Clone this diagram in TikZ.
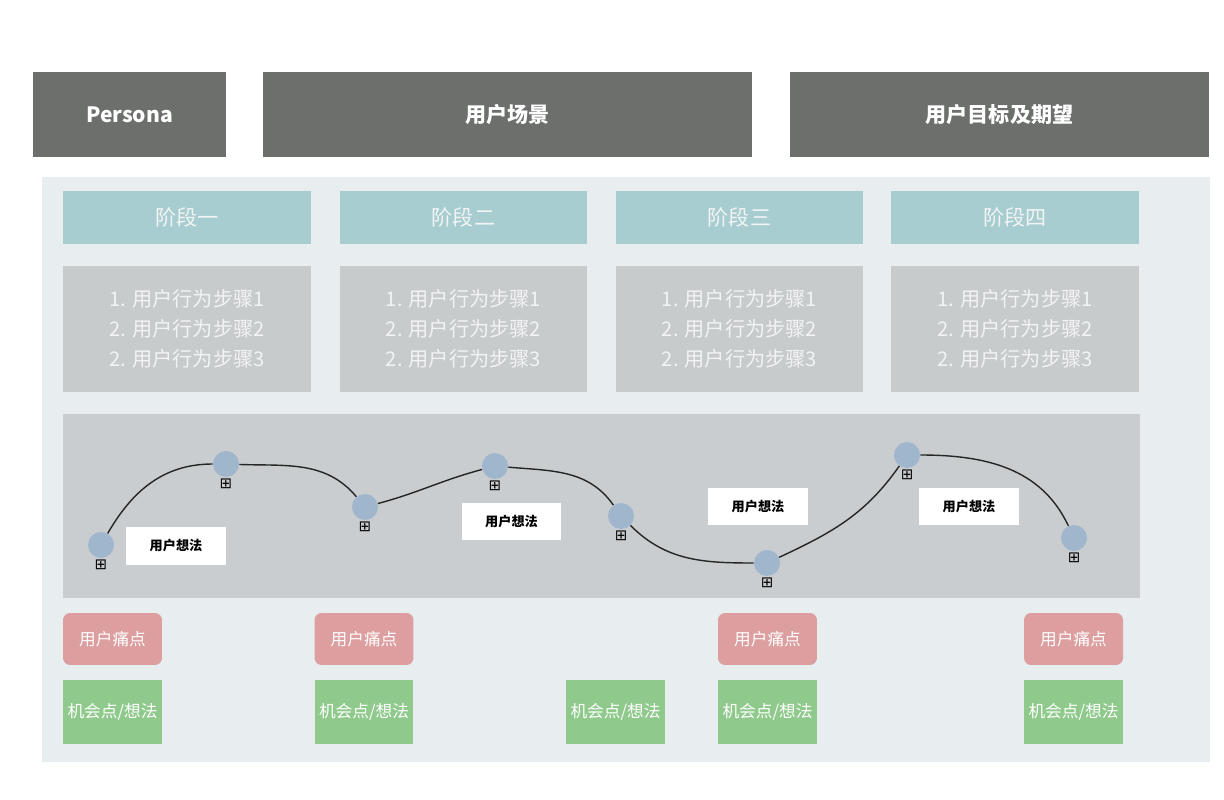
\documentclass[tikz,border=0pt]{standalone}
\usepackage{fontspec}
\setmainfont{Noto Sans CJK SC}
\newfontfamily\symfont{DejaVu Sans}
\usepackage{tikz}
\usepackage{xcolor}
\usetikzlibrary{
    arrows.meta,
    positioning
}
\definecolor{topGray}{RGB}{108,111,108}
\definecolor{panelBg}{RGB}{232,238,240}
\definecolor{stageTeal}{RGB}{168,205,208}
\definecolor{stepGray}{RGB}{200,203,204}
\definecolor{curveBg}{RGB}{201,205,207}
\definecolor{dotBlue}{RGB}{160,182,205}
\definecolor{painRed}{RGB}{220,158,159}
\definecolor{oppGreen}{RGB}{143,202,140}
\definecolor{softWhite}{RGB}{242,244,244}
\tikzset{
  topbox/.style   = {fill=topGray, minimum height=1.70cm, inner sep=0pt,
                     text=white, font=\bfseries\fontsize{12}{14}\selectfont},
  stagebox/.style = {fill=stageTeal, minimum width=4.96cm,
                     minimum height=1.06cm, inner sep=0pt, text=softWhite,
                     font=\fontsize{12}{14}\selectfont},
  stepbox/.style  = {fill=stepGray, minimum width=4.96cm,
                     minimum height=2.52cm, inner sep=0pt, align=center,
                     text=softWhite, font=\fontsize{11.5}{17}\selectfont},
  dot/.style      = {circle, fill=dotBlue, minimum size=0.52cm, inner sep=0pt,
                     label={[inner sep=0pt, yshift=-0.02cm,
                             font=\symfont\fontsize{8.5}{8.5}\selectfont]below:⊞}},
  thought/.style  = {fill=white, minimum width=2.0cm, minimum height=0.76cm,
                     inner sep=0pt, font=\bfseries\fontsize{7.5}{9}\selectfont},
  pain/.style     = {fill=painRed, rounded corners=4pt, minimum width=1.98cm,
                     minimum height=1.04cm, inner sep=0pt, text=white,
                     font=\fontsize{9.5}{11}\selectfont},
  opp/.style      = {fill=oppGreen, minimum width=1.98cm,
                     minimum height=1.28cm, inner sep=0pt, text=white,
                     font=\fontsize{9.5}{11}\selectfont},
  curve/.style    = {line width=0.8pt, black!85}
}

\begin{document}
\begin{tikzpicture}[x=0.02cm, y=0.02cm]
    \useasboundingbox[fill=white] (0,0) rectangle (1224,-800);
    % header row
    \node[topbox, minimum width=3.86cm](persona) at (129.5,-114.5) {Persona};
    \node[topbox, minimum width=9.78cm](scene) at (507.5,-114.5) {用户场景};
    \node[topbox, minimum width=8.38cm](goal) at (999.5,-114.5) {用户目标及期望};
    % panels
    \fill[panelBg] (42,-177) rectangle (1210,-762);
    \fill[curveBg] (63,-414) rectangle (1140,-598);
    % stages
    \node[stagebox](s1) at (187,-217.5)   {阶段一};
    \node[stagebox](s2) at (463.5,-217.5) {阶段二};
    \node[stagebox](s3) at (739.5,-217.5) {阶段三};
    \node[stagebox](s4) at (1015,-217.5)  {阶段四};
    \node[stepbox](b1) at (187,-329)   {1. 用户行为步骤1\\2. 用户行为步骤2\\2. 用户行为步骤3};
    \node[stepbox](b2) at (463.5,-329) {1. 用户行为步骤1\\2. 用户行为步骤2\\2. 用户行为步骤3};
    \node[stepbox](b3) at (739.5,-329) {1. 用户行为步骤1\\2. 用户行为步骤2\\2. 用户行为步骤3};
    \node[stepbox](b4) at (1015,-329)  {1. 用户行为步骤1\\2. 用户行为步骤2\\2. 用户行为步骤3};
    % emotion curve
    \node[dot](p1) at (101,-545) {};
    \node[dot](p2) at (226,-464) {};
    \node[dot](p3) at (365,-507) {};
    \node[dot](p4) at (495,-466) {};
    \node[dot](p5) at (621,-516) {};
    \node[dot](p6) at (767,-563) {};
    \node[dot](p7) at (907,-455) {};
    \node[dot](p8) at (1074,-538) {};
    \draw[curve](p1) to[out=60, in=180] (p2);
    \draw[curve](p2) to[out=-2, in=130] (p3);
    \draw[curve](p3) to[out=15, in=195] (p4);
    \draw[curve](p4) to[out=-5, in=125] (p5);
    \draw[curve](p5) to[out=-45, in=180] (p6);
    \draw[curve](p6) to[out=25, in=-125] (p7);
    \draw[curve](p7) to[out=0, in=115] (p8);
    \node[thought](t1) at (176,-546)    {用户想法};
    \node[thought](t2) at (511.5,-521.5) {用户想法};
    \node[thought](t3) at (758,-506.5)  {用户想法};
    \node[thought](t4) at (969,-506.5)  {用户想法};
    % pain points and opportunities
    \node[pain](pn1) at (112.5,-639)  {用户痛点};
    \node[pain](pn2) at (364,-639)    {用户痛点};
    \node[pain](pn3) at (767.5,-639)  {用户痛点};
    \node[pain](pn4) at (1073.5,-639) {用户痛点};
    \node[opp](o1) at (112.5,-712)  {机会点/想法};
    \node[opp](o2) at (364,-712)    {机会点/想法};
    \node[opp](o3) at (615.5,-712)  {机会点/想法};
    \node[opp](o4) at (767.5,-712)  {机会点/想法};
    \node[opp](o5) at (1073.5,-712) {机会点/想法};
\end{tikzpicture}
\end{document}
